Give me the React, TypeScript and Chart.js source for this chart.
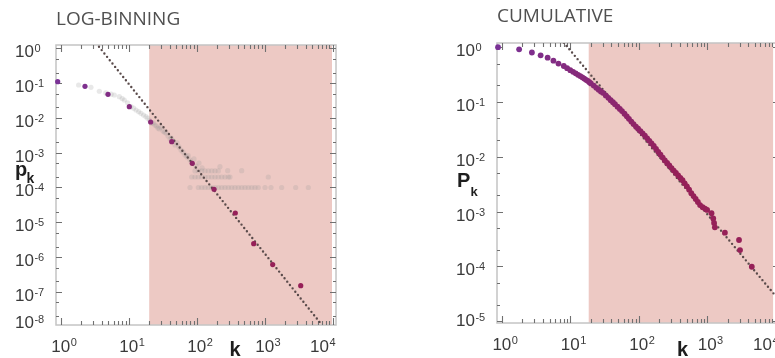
import React, { useEffect, useRef } from "react";
import { Chart, registerables } from "chart.js";

Chart.register(...registerables);

// ---------------- data ----------------
// LOG-BINNING panel: log-binned p_k (purple points)
const logBinK = [0.9, 2.27, 4.95, 10.2, 21.0, 42.9, 86, 180, 370, 690, 1313, 3395];
const logBinP = [0.109, 0.0805, 0.0475, 0.0209, 0.0076, 0.00207, 4.96e-4, 8.9e-5, 1.85e-5, 2.44e-6, 6.1e-7, 1.52e-7];

// LOG-BINNING panel: linearly binned p_k (grey points)
const linK = [
  1.83, 2.78, 3.69, 4.6, 5.5, 6.13, 7.26, 8.0, 8.6, 9.6, 10.8, 11.8, 12.8, 14.0, 15.1, 16.5, 17.9, 19.0, 20.2,
  21.8, 23.0, 24.3, 25.5, 26.9, 28.2, 29.8, 31.9, 33.5, 35.3, 37.8, 40.5, 42.5, 44.8, 48, 51.3, 54.9, 58.8, 62.9, 67.3,
  72, 75, 79.7, 85.3, 91.2, 97.7, 108, 120,
  94.4, 105.6, 118.5, 132.5, 148.2, 166.3, 186, 208, 220, 286, 459,
  84.4, 94.4, 105.6, 118.5, 132.5, 148.2, 166.3, 186, 208, 233, 261, 292, 309, 1132,
  79.7, 105.6, 118.5, 132.5, 148.2, 166.3, 186, 208, 233, 261, 292, 327, 366, 409.6, 459.5, 514, 574.8, 645, 721, 806,
  1012, 1240, 1782, 2864, 4390,
];
const linP = [
  0.0878, 0.0754, 0.058, 0.052, 0.048, 0.0453, 0.0405, 0.036, 0.0326, 0.027, 0.0209, 0.019, 0.0168, 0.015, 0.0135, 0.012,
  0.0108, 0.0098, 0.0085,
  0.00698, 0.0072, 0.00624, 0.0058, 0.00511, 0.0048, 0.00547, 0.0042, 0.0039, 0.00367, 0.00301, 0.00247, 0.0026, 0.00217,
  0.00166, 0.0019, 0.00146, 0.00119, 0.00105, 8.6e-4, 7.5e-4, 8.2e-4, 6.17e-4, 5.06e-4, 6.6e-4, 4.15e-4, 5.06e-4, 3.64e-4,
  3e-4, 3e-4, 3e-4, 3e-4, 3e-4, 3e-4, 3e-4, 3e-4, 3.96e-4, 3.04e-4, 3.04e-4,
  2e-4, 2e-4, 2e-4, 2e-4, 2e-4, 2e-4, 2e-4, 2e-4, 2e-4, 2e-4, 2e-4, 2e-4, 2e-4, 2e-4,
  1e-4, 1e-4, 1e-4, 1e-4, 1e-4, 1e-4, 1e-4, 1e-4, 1e-4, 1e-4, 1e-4, 1e-4, 1e-4, 1e-4, 1e-4, 1e-4, 1e-4, 1e-4, 1e-4, 1e-4,
  1e-4, 1e-4, 1e-4, 1e-4, 1e-4,
];

// LOG-BINNING panel: power-law fit (dotted line)
const fitLeftK = [3.65, 6914];
const fitLeftP = [1.1, 1.15e-8];

// CUMULATIVE panel: P_k (purple points)
const cumK = [
  0.88, 1.79, 2.75, 3.69, 4.67, 5.67, 6.72, 8.04, 9, 10, 11, 12, 13, 14, 15, 16, 17, 18, 19, 20,
  22, 24, 26, 28, 30, 33, 36, 39, 42, 45, 49, 53, 57, 62, 67, 72, 78, 84, 91, 98, 106, 114, 123, 133, 143, 154, 166,
  179, 193, 208, 224, 241, 260, 280, 302, 325, 350, 377, 406, 437, 470, 506, 545, 587, 632, 680, 732, 788,
  860, 930, 1000, 1159, 1228, 1262, 1297, 1818, 2923, 3025, 4494,
];
const cumP = [
  1.0, 0.915, 0.8, 0.711, 0.643, 0.567, 0.502, 0.454, 0.414, 0.381, 0.355, 0.333, 0.313, 0.297, 0.282, 0.267, 0.254,
  0.243, 0.229, 0.218, 0.199, 0.181, 0.1675, 0.156, 0.1466, 0.1315, 0.119, 0.108, 0.0988, 0.091, 0.0822, 0.0746, 0.0681,
  0.0612, 0.0547, 0.0493, 0.0439, 0.0394, 0.0355, 0.0324, 0.0294, 0.0268, 0.0243, 0.0217, 0.0195, 0.0175, 0.0157,
  0.01396, 0.0123, 0.0109, 0.00966, 0.00857, 0.00769, 0.00693, 0.00622, 0.0056, 0.00505, 0.00456, 0.00411, 0.00372,
  0.00327, 0.00288, 0.00251, 0.00216, 0.00191, 0.00169, 0.00149, 0.00131, 0.0012, 0.00113, 0.00107, 9.3e-4, 7.45e-4,
  6.17e-4, 5.15e-4, 4.1e-4, 3.02e-4, 1.98e-4, 9.8e-5,
];

// CUMULATIVE panel: power-law fit (dotted line)
const fitRightK = [8.04, 11000];
const fitRightP = [1.21, 2.5e-5];

// shaded fitting ranges (k)
const shadeLeftK = [20, 9800];
const shadeRightK = [18.6, 9200];

// axes
const xRange = [0.85, 11220];
const yRangeLeft = [1.126e-8, 1.236];
const yRangeRight = [9.21e-6, 1.193];
const xDecades = [0, 1, 2, 3, 4];
const yDecadesLeft = [0, -1, -2, -3, -4, -5, -6, -7, -8];
const yDecadesRight = [0, -1, -2, -3, -4, -5];
const xMinorMult = [2, 3, 4, 5, 6, 7, 8, 9];
const yMinorMult = [2, 5];

// ---------------- styling ----------------
const SHADE = "rgb(237,201,196)";
const TICK_FONT = '"Liberation Sans", Arial, Helvetica, sans-serif';
const TITLE_FONT = '"Open Sans", "Noto Sans", sans-serif';

function purpleFor(k: number) {
  const t = Math.max(0, Math.min(1, Math.log10(Math.max(k, 1)) / 2.6));
  const a = [122, 50, 150];
  const b = [150, 32, 88];
  const c = a.map((v, i) => Math.round(v + (b[i] - v) * t));
  return `rgb(${c[0]},${c[1]},${c[2]})`;
}

const pts = (ks: number[], ps: number[]) => ks.map((k, i) => ({ x: k, y: ps[i] }));

type Spec = {
  yDecades: number[];
  shade: number[];
  yTitle: string;
  yTitleX: number;
  yTitleBase: number;
  yTitleSize: number;
  ySubX: number;
  ySubBase: number;
  ySubSize: number;
  xTitleX: number;
  xTitleBase: number;
  yLabelDx: number;
};

function axesPlugin(spec: Spec) {
  return {
    id: "panelAxes",
    beforeDatasetsDraw(chart: any) {
      const { ctx, chartArea: a } = chart;
      const xs = chart.scales.x;
      const ys = chart.scales.y;
      ctx.save();
      const s0 = xs.getPixelForValue(spec.shade[0]);
      const s1 = xs.getPixelForValue(spec.shade[1]);
      ctx.fillStyle = SHADE;
      ctx.fillRect(s0, a.top, s1 - s0, a.bottom - a.top);

      ctx.strokeStyle = "#c4c4c4";
      ctx.lineWidth = 1.5;
      ctx.strokeRect(a.left, a.top, a.right - a.left, a.bottom - a.top);

      ctx.strokeStyle = "#707070";
      ctx.lineWidth = 1.1;
      ctx.beginPath();
      for (const d of xDecades) {
        for (const m of [1, ...xMinorMult]) {
          const v = m * Math.pow(10, d);
          if (v < xs.min || v > xs.max) continue;
          const x = Math.round(xs.getPixelForValue(v)) + 0.5;
          const len = m === 1 ? 7 : 4;
          ctx.moveTo(x, a.bottom);
          ctx.lineTo(x, a.bottom - len);
          ctx.moveTo(x, a.top);
          ctx.lineTo(x, a.top + len);
        }
      }
      for (const d of spec.yDecades) {
        for (const m of [1, ...yMinorMult]) {
          const v = m * Math.pow(10, d);
          if (v < ys.min || v > ys.max) continue;
          const y = Math.round(ys.getPixelForValue(v)) + 0.5;
          const len = m === 1 ? 6 : 3;
          ctx.moveTo(a.left, y);
          ctx.lineTo(a.left + len, y);
          ctx.moveTo(a.right, y);
          ctx.lineTo(a.right - len, y);
        }
      }
      ctx.stroke();
      ctx.restore();
    },
    afterDatasetsDraw(chart: any) {
      const { ctx, chartArea: a } = chart;
      const xs = chart.scales.x;
      const ys = chart.scales.y;
      ctx.save();
      ctx.fillStyle = "#3a3a3a";
      ctx.textBaseline = "alphabetic";
      ctx.textAlign = "left";
      const baseFont = `17px ${TICK_FONT}`;
      const supFont = `11px ${TICK_FONT}`;
      // x tick labels
      for (const d of xDecades) {
        const x = xs.getPixelForValue(Math.pow(10, d));
        const sup = String(d);
        ctx.font = baseFont;
        const wb = ctx.measureText("10").width;
        ctx.font = supFont;
        const ws = ctx.measureText(sup).width;
        let sx = x - wb / 2;
        if (sx + wb + ws + 1 > a.right) sx = a.right - wb - ws - 1;
        const base = a.bottom + 27;
        ctx.font = baseFont;
        ctx.fillText("10", sx, base);
        ctx.font = supFont;
        ctx.fillText(sup, sx + wb + 0.5, base - 6);
      }
      // y tick labels
      for (const d of spec.yDecades) {
        const y = ys.getPixelForValue(Math.pow(10, d));
        const sup = d === 0 ? "0" : "-" + Math.abs(d);
        const lx = a.left - spec.yLabelDx;
        const base = Math.min(y + 9, a.bottom + 3);
        ctx.font = baseFont;
        const wb = ctx.measureText("10").width;
        ctx.fillText("10", lx, base);
        ctx.font = supFont;
        ctx.fillText(sup, lx + wb + 0.5, base - 5);
      }
      // axis titles
      ctx.fillStyle = "#1e1e1e";
      ctx.font = `bold ${spec.yTitleSize}px ${TICK_FONT}`;
      ctx.fillText(spec.yTitle, spec.yTitleX, spec.yTitleBase);
      ctx.font = `bold ${spec.ySubSize}px ${TICK_FONT}`;
      ctx.fillText("k", spec.ySubX, spec.ySubBase);
      ctx.font = `bold 20px ${TICK_FONT}`;
      ctx.fillText("k", spec.xTitleX, spec.xTitleBase);
      ctx.restore();
    },
  };
}

function makeChart(
  canvas: HTMLCanvasElement,
  title: string,
  titlePad: { top: number; bottom: number },
  padding: { left: number; right: number; bottom: number },
  yRange: number[],
  datasets: any[],
  spec: Spec
) {
  return new Chart(canvas, {
    type: "scatter",
    data: { datasets },
    options: {
      responsive: false,
      animation: false,
      events: [],
      layout: { padding: { left: padding.left, right: padding.right, top: 0, bottom: padding.bottom } },
      plugins: {
        legend: { display: false },
        tooltip: { enabled: false },
        title: {
          display: true,
          text: title,
          align: "start",
          color: "#505050",
          font: { family: TITLE_FONT, size: 19, weight: "normal", lineHeight: 1.2 },
          padding: titlePad,
        },
      },
      scales: {
        x: { type: "logarithmic", min: xRange[0], max: xRange[1], display: false },
        y: { type: "logarithmic", min: yRange[0], max: yRange[1], display: false },
      },
    },
    plugins: [axesPlugin(spec)],
  } as any);
}

const fitStyle = {
  showLine: true,
  pointRadius: 0,
  borderColor: "#5a4b4b",
  borderWidth: 2.4,
  borderDash: [0, 4.3],
  borderCapStyle: "round",
  fill: false,
};

export default function App() {
  const leftRef = useRef<HTMLCanvasElement>(null);
  const rightRef = useRef<HTMLCanvasElement>(null);

  useEffect(() => {
    const left = makeChart(
      leftRef.current!,
      "LOG-BINNING",
      { top: 8.5, bottom: 13.7 },
      { left: 56, right: 44, bottom: 33 },
      yRangeLeft,
      [
        {
          data: pts(linK, linP),
          pointRadius: 2.6,
          backgroundColor: "rgba(150,150,150,0.22)",
          borderWidth: 0,
          order: 3,
          clip: 6,
        },
        { data: pts(fitLeftK, fitLeftP), ...fitStyle, order: 2 },
        {
          data: pts(logBinK, logBinP),
          pointRadius: 2.6,
          backgroundColor: (c: any) => purpleFor(c.raw ? c.raw.x : 1),
          borderWidth: 0,
          order: 1,
          clip: 6,
        },
      ],
      {
        yDecades: yDecadesLeft,
        shade: shadeLeftK,
        yTitle: "p",
        yTitleX: 15,
        yTitleBase: 176,
        yTitleSize: 20,
        ySubX: 26.5,
        ySubBase: 183,
        ySubSize: 14,
        xTitleX: 229.5,
        xTitleBase: 356,
        yLabelDx: 41,
      }
    );
    const right = makeChart(
      rightRef.current!,
      "CUMULATIVE",
      { top: 5.5, bottom: 14.7 },
      { left: 105, right: 13, bottom: 35 },
      yRangeRight,
      [
        { data: pts(fitRightK, fitRightP), ...fitStyle, order: 2 },
        {
          data: pts(cumK, cumP),
          pointRadius: 2.9,
          backgroundColor: (c: any) => purpleFor(c.raw ? c.raw.x : 1),
          borderWidth: 0,
          order: 1,
          clip: 6,
        },
      ],
      {
        yDecades: yDecadesRight,
        shade: shadeRightK,
        yTitle: "P",
        yTitleX: 65,
        yTitleBase: 187,
        yTitleSize: 20,
        ySubX: 78.5,
        ySubBase: 196,
        ySubSize: 13,
        xTitleX: 285,
        xTitleBase: 356,
        yLabelDx: 41,
      }
    );
    return () => {
      left.destroy();
      right.destroy();
    };
  }, []);

  return (
    <div
      style={{
        position: "fixed",
        left: 0,
        top: 0,
        width: 775,
        height: 358,
        overflow: "hidden",
        background: "#ffffff",
      }}
    >
      <canvas ref={leftRef} width={380} height={358} style={{ position: "absolute", left: 0, top: 0 }} />
      <canvas ref={rightRef} width={400} height={358} style={{ position: "absolute", left: 392, top: 0 }} />
    </div>
  );
}
